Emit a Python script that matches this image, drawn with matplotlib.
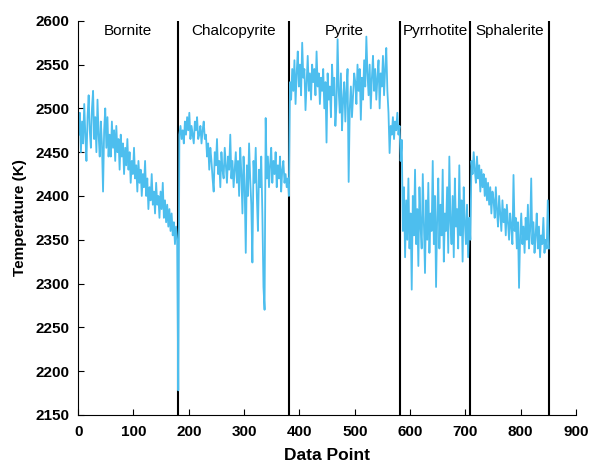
import numpy as np
import matplotlib.pyplot as plt

plt.rcParams['font.family'] = ['Liberation Sans', 'DejaVu Sans']

minerals = ['Bornite', 'Chalcopyrite', 'Pyrite', 'Pyrrhotite', 'Sphalerite']
boundaries = [181, 381, 581, 709, 851]

# temperatures, every second data point
bornite = [2470, 2495, 2450, 2485, 2460, 2505, 2470, 2440, 2490, 2515,
           2475, 2455, 2500, 2520, 2465, 2490, 2450, 2510, 2470, 2445,
           2485, 2460, 2405, 2475, 2500, 2455, 2490, 2445, 2470, 2445,
           2485, 2455, 2475, 2440, 2480, 2450, 2465, 2430, 2470, 2445,
           2460, 2425, 2455, 2435, 2465, 2430, 2450, 2415, 2440, 2425,
           2455, 2420, 2435, 2405, 2440, 2415, 2430, 2400, 2425, 2410,
           2440, 2400, 2420, 2385, 2410, 2395, 2425, 2390, 2405, 2380,
           2415, 2390, 2400, 2375, 2405, 2385, 2415, 2375, 2395, 2370,
           2390, 2365, 2385, 2360, 2380, 2355, 2370, 2345, 2365, 2350,
           2178]
chalcopyrite = [2470, 2480, 2465, 2475, 2460, 2485, 2470, 2490, 2475, 2495,
                2465, 2480, 2470, 2460, 2485, 2475, 2490, 2465, 2470, 2480,
                2460, 2475, 2485, 2465, 2470,
                2445, 2460, 2430, 2455, 2440, 2420, 2405, 2450, 2435, 2465,
                2425, 2440, 2410, 2450, 2430, 2420, 2455, 2435, 2415, 2445,
                2430, 2470, 2420, 2440, 2410,
                2430, 2450, 2415, 2440, 2400, 2455, 2425, 2380, 2445, 2410,
                2335, 2435, 2400, 2460, 2420, 2390, 2324, 2440, 2415, 2455,
                2400, 2360, 2430, 2410, 2445, 2380, 2296, 2270, 2489,
                2420, 2445, 2410, 2435, 2455, 2415, 2440, 2425, 2450, 2410,
                2435, 2420, 2445, 2405, 2430, 2440, 2415, 2425, 2410, 2420,
                2400]
pyrite = [2530, 2510, 2545, 2520, 2555, 2505, 2540, 2565, 2525, 2550,
          2515, 2575, 2535, 2545, 2498, 2530, 2560, 2520, 2540, 2510,
          2550, 2530, 2545, 2515, 2565, 2525, 2540, 2505, 2535,
          2520, 2545, 2500, 2530, 2461, 2540, 2510, 2525, 2490, 2550,
          2515, 2535, 2480, 2505, 2579, 2520, 2495, 2540, 2475, 2510,
          2530, 2485, 2520, 2545, 2416, 2500, 2525, 2490, 2515, 2540,
          2530, 2505, 2550, 2520, 2545, 2487, 2535, 2510, 2555, 2525,
          2582, 2540, 2515, 2550, 2500, 2535, 2560, 2520, 2545, 2510,
          2535, 2555, 2500, 2540, 2525, 2560, 2515, 2545, 2569, 2520,
          2495, 2449, 2480, 2470, 2490, 2465, 2485, 2475, 2495, 2470,
          2480]
pyrrhotite = [2440, 2464, 2360, 2410, 2330, 2395, 2350, 2420, 2340, 2380,
              2293, 2400, 2355, 2430, 2345, 2385, 2320, 2410, 2365, 2340,
              2425, 2370, 2312, 2395, 2350, 2415, 2335, 2380, 2360, 2440,
              2345, 2400, 2296, 2375, 2420, 2340, 2390, 2355, 2430, 2325,
              2380, 2360, 2410, 2335, 2445, 2370, 2345, 2400, 2330, 2420,
              2365, 2385, 2340, 2435, 2355, 2395, 2325, 2410, 2370, 2345,
              2390, 2330, 2375, 2350]
sphalerite = [2440, 2425, 2450, 2430, 2415, 2445, 2420, 2435, 2405, 2430,
              2410, 2425, 2400, 2420, 2395, 2415, 2390, 2410, 2380, 2405,
              2395, 2375, 2410, 2385, 2365, 2400, 2380, 2360, 2395, 2370,
              2385, 2355, 2390, 2370, 2350, 2380, 2365, 2345, 2424, 2360,
              2375, 2340, 2370, 2295, 2355, 2380, 2345, 2365, 2335, 2375,
              2350, 2390, 2340, 2360, 2420, 2345, 2370, 2335, 2355, 2380,
              2340, 2365, 2330, 2355, 2345, 2375, 2335, 2350, 2340, 2395,
              2340]

temps = np.array(bornite + chalcopyrite + pyrite + pyrrhotite + sphalerite)
x = 1 + 2 * np.arange(len(temps))

fig = plt.figure(figsize=(5.92, 4.63), dpi=100)
ax = fig.add_axes([0.132, 0.104, 0.841, 0.851])

for b in boundaries:
    ax.axvline(b, color='black', lw=1.5, zorder=1)
ax.plot(x, temps, color='#4DBEEE', lw=1.3, zorder=2)

starts = [0] + boundaries[:-1]
for name, s, e in zip(minerals, starts, boundaries):
    ax.text((s + e) / 2, 2588, name, ha='center', va='center', fontsize=11)

ax.set_xlim(0, 900)
ax.set_ylim(2150, 2600)
ax.set_xticks(np.arange(0, 901, 100))
ax.set_yticks(np.arange(2150, 2601, 50))
ax.spines['top'].set_visible(False)
ax.spines['right'].set_visible(False)
ax.tick_params(direction='in', length=4, labelsize=11)
ax.tick_params(axis='x', pad=7)
ax.tick_params(axis='y', pad=6)
for lbl in ax.get_xticklabels() + ax.get_yticklabels():
    lbl.set_fontweight('bold')
ax.set_xlabel('Data Point', fontsize=12.5, fontweight='bold', labelpad=7)
ax.set_ylabel('Temperature (K)', fontsize=11, fontweight='bold', labelpad=6)

fig.savefig('out.png', dpi=100)
